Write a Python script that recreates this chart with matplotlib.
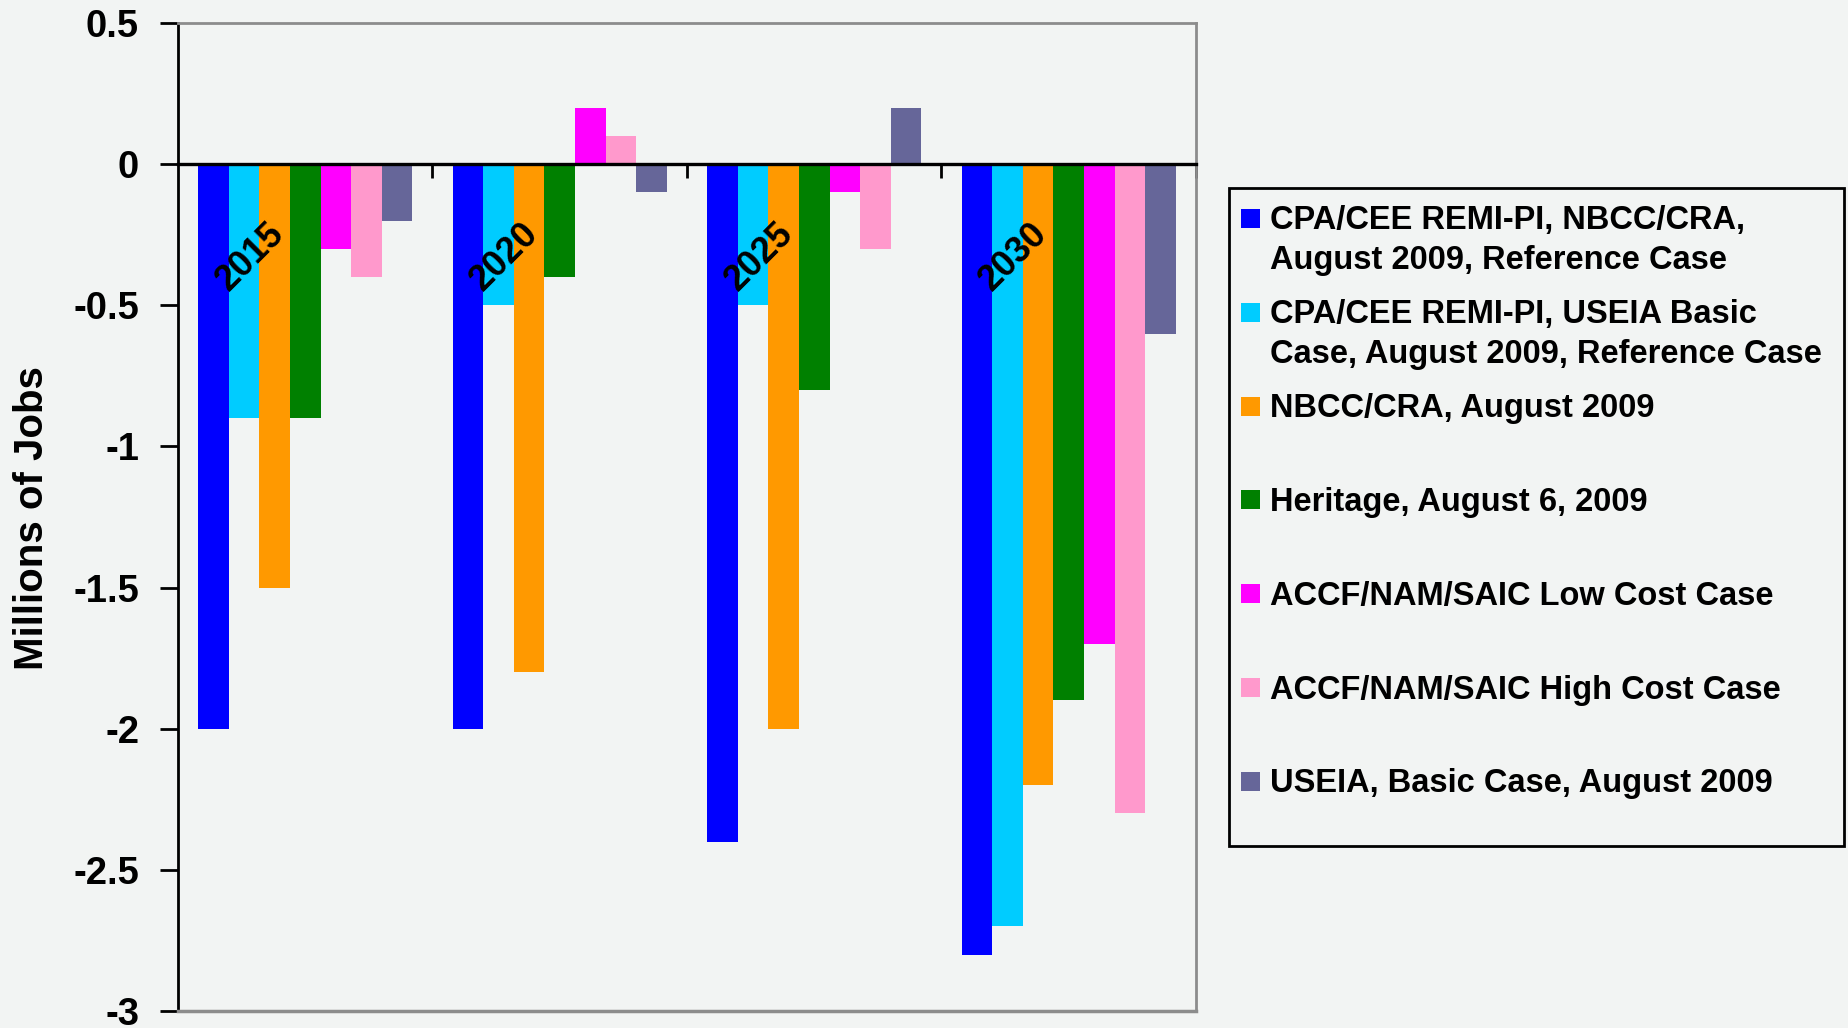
import matplotlib
matplotlib.use("Agg")
import matplotlib.pyplot as plt
from matplotlib.patches import Rectangle
import numpy as np

# ---- data -------------------------------------------------------------
years = ["2015", "2020", "2025", "2030"]

series_names = [
    "CPA/CEE REMI-PI, NBCC/CRA,\nAugust 2009, Reference Case",
    "CPA/CEE REMI-PI, USEIA Basic\nCase, August 2009, Reference Case",
    "NBCC/CRA, August 2009",
    "Heritage, August 6, 2009",
    "ACCF/NAM/SAIC Low Cost Case",
    "ACCF/NAM/SAIC High Cost Case",
    "USEIA, Basic Case, August 2009",
]

cpa_nbcc = [-2.0, -2.0, -2.4, -2.8]
cpa_useia = [-0.9, -0.5, -0.5, -2.7]
nbcc_cra = [-1.5, -1.8, -2.0, -2.2]
heritage = [-0.9, -0.4, -0.8, -1.9]
accf_low = [-0.3, 0.2, -0.1, -1.7]
accf_high = [-0.4, 0.1, -0.3, -2.3]
useia_basic = [-0.2, -0.1, 0.2, -0.6]

series_values = [cpa_nbcc, cpa_useia, nbcc_cra, heritage,
                 accf_low, accf_high, useia_basic]

colors = ["#0000FF", "#00CCFF", "#FF9900", "#008000",
          "#FF00FF", "#FF99CC", "#666699"]

ytick_values = [0.5, 0, -0.5, -1, -1.5, -2, -2.5, -3]
ytick_labels = ["0.5", "0", "-0.5", "-1", "-1.5", "-2", "-2.5", "-3"]

y_label = "Millions of Jobs"

# ---- styling ------------------------------------------------------------
W, H = 1849, 1028
BG = "#F2F4F3"
FRAME_GRAY = "#8C8C8C"
plt.rcParams["font.family"] = ["Liberation Sans", "DejaVu Sans"]
plt.rcParams["font.weight"] = "bold"
plt.rcParams["axes.unicode_minus"] = False

fig = plt.figure(figsize=(W / 100, H / 100), dpi=100, facecolor=BG)


def fx(px):
    return px / W


def fy(py):
    return 1 - py / H


ax_left, ax_right, ax_top, ax_bottom = 178, 1196, 23, 1011
ax = fig.add_axes([fx(ax_left), fy(ax_bottom),
                   fx(ax_right - ax_left), (ax_bottom - ax_top) / H])
ax.set_facecolor(BG)

n_series = len(series_values)
bar_w = 0.12
centers = np.arange(len(years)) + 0.5
for k, (vals, col) in enumerate(zip(series_values, colors)):
    xs = centers + (k - (n_series - 1) / 2) * bar_w
    ax.bar(xs, vals, width=bar_w, color=col, edgecolor="none", zorder=2)

ax.set_xlim(0, len(years))
ax.set_ylim(min(ytick_values), max(ytick_values))

# y axis
ax.set_yticks(ytick_values)
ax.set_yticklabels(ytick_labels, fontsize=27.5, fontweight="bold")
ax.tick_params(axis="y", direction="out", length=13, width=2,
               pad=15, color="black")

# category axis drawn through zero, with ticks between categories
ax.spines["bottom"].set_position(("data", 0))
ax.spines["bottom"].set_color("black")
ax.spines["bottom"].set_linewidth(2.4)
ax.spines["bottom"].set_zorder(3)
ax.set_xticks(np.arange(1, len(years) + 1))
ax.set_xticklabels([])
ax.tick_params(axis="x", direction="out", length=10, width=2, color="black")

ax.spines["left"].set_color("black")
ax.spines["left"].set_linewidth(2)
for side in ("top", "right"):
    ax.spines[side].set_color(FRAME_GRAY)
    ax.spines[side].set_linewidth(2)
# plot-area frame along the bottom edge
ax.plot([0, 1], [0, 0], transform=ax.transAxes, color=FRAME_GRAY,
        lw=2.5, clip_on=False, zorder=3)

# rotated category labels
for i, yr in enumerate(years):
    ax.text(centers[i] - 0.217, -0.327, yr, rotation=45,
            ha="center", va="center", fontsize=26, fontweight="bold",
            color="black", zorder=5)

fig.text(fx(32), fy(518), y_label, rotation=90, ha="center", va="center",
         fontsize=29, fontweight="bold")

# ---- legend -------------------------------------------------------------
leg_l, leg_r, leg_t, leg_b = 1229, 1844, 188, 846
fig.patches.append(Rectangle((fx(leg_l), fy(leg_b)), fx(leg_r - leg_l),
                             (leg_b - leg_t) / H, transform=fig.transFigure,
                             facecolor="none", edgecolor="black", lw=2))
first_row = 218
row_step = 93.8
line_gap = 40
for k, (name, col) in enumerate(zip(series_names, colors)):
    yc = first_row + k * row_step
    fig.patches.append(Rectangle((fx(1241), fy(yc + 10)), fx(19), 19 / H,
                                 transform=fig.transFigure,
                                 facecolor=col, edgecolor="none"))
    for j, line in enumerate(name.split("\n")):
        fig.text(fx(1270), fy(yc + 11.5 + j * line_gap), line,
                 ha="left", va="baseline", fontsize=23.5, fontweight="bold")

fig.savefig("out.png", dpi=100, facecolor=BG)
